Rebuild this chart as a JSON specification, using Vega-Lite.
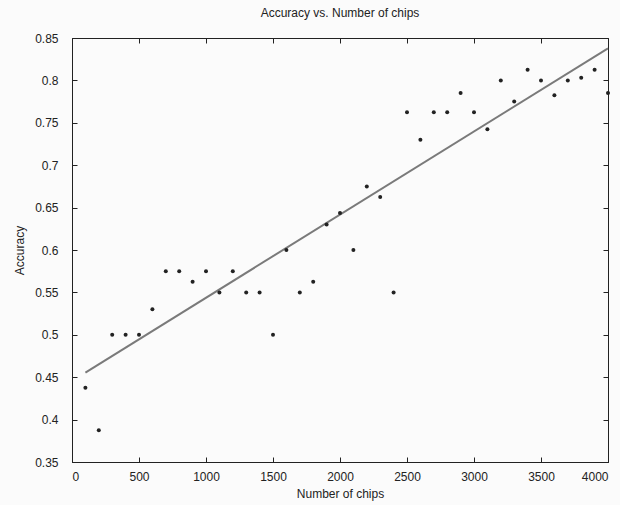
{
  "$schema": "https://vega.github.io/schema/vega-lite/v6.json",
  "width": 536,
  "height": 424,
  "autosize": {"type": "none"},
  "padding": {"left": 72, "top": 38, "right": 12, "bottom": 43},
  "background": "#fbfbfb",
  "title": {"text": "Accuracy vs. Number of chips", "font": "Liberation Sans", "fontSize": 12, "fontWeight": "normal", "color": "#222", "offset": 12},
  "config": {
    "view": {"stroke": "#222", "strokeWidth": 1, "fill": "#fbfbfb"},
    "axis": {"labelFont": "Liberation Sans", "titleFont": "Liberation Sans", "labelFontSize": 12, "titleFontSize": 12, "titleFontWeight": "normal", "labelColor": "#222", "titleColor": "#222", "domainColor": "#222", "tickColor": "#222", "tickSize": -5, "grid": false}
  },
  "datasets": {
    "pts": [
      {"chips": 100, "acc": 0.4375}, {"chips": 200, "acc": 0.3875}, {"chips": 300, "acc": 0.5}, {"chips": 400, "acc": 0.5},
      {"chips": 500, "acc": 0.5}, {"chips": 600, "acc": 0.53}, {"chips": 700, "acc": 0.575}, {"chips": 800, "acc": 0.575},
      {"chips": 900, "acc": 0.5625}, {"chips": 1000, "acc": 0.575}, {"chips": 1100, "acc": 0.55}, {"chips": 1200, "acc": 0.575},
      {"chips": 1300, "acc": 0.55}, {"chips": 1400, "acc": 0.55}, {"chips": 1500, "acc": 0.5}, {"chips": 1600, "acc": 0.6},
      {"chips": 1700, "acc": 0.55}, {"chips": 1800, "acc": 0.5625}, {"chips": 1900, "acc": 0.63}, {"chips": 2000, "acc": 0.6435},
      {"chips": 2100, "acc": 0.6}, {"chips": 2200, "acc": 0.675}, {"chips": 2300, "acc": 0.6625}, {"chips": 2400, "acc": 0.55},
      {"chips": 2500, "acc": 0.7625}, {"chips": 2600, "acc": 0.73}, {"chips": 2700, "acc": 0.7625}, {"chips": 2800, "acc": 0.7625},
      {"chips": 2900, "acc": 0.785}, {"chips": 3000, "acc": 0.7625}, {"chips": 3100, "acc": 0.7425}, {"chips": 3200, "acc": 0.8},
      {"chips": 3300, "acc": 0.775}, {"chips": 3400, "acc": 0.8125}, {"chips": 3500, "acc": 0.8}, {"chips": 3600, "acc": 0.7825},
      {"chips": 3700, "acc": 0.8}, {"chips": 3800, "acc": 0.803}, {"chips": 3900, "acc": 0.8125}, {"chips": 4000, "acc": 0.785}
    ],
    "fit": [
      {"chips": 100, "acc": 0.4555}, {"chips": 4000, "acc": 0.8378}
    ]
  },
  "layer": [
    {
      "data": {"name": "fit"},
      "mark": {"type": "line", "color": "#7a7a7a", "strokeWidth": 2},
      "encoding": {
        "x": {"field": "chips", "type": "quantitative", "scale": {"domain": [0, 4000], "nice": false}, "axis": {"title": "Number of chips", "format": "d", "values": [0,500,1000,1500,2000,2500,3000,3500,4000], "labelPadding": 14, "titlePadding": 6}},
        "y": {"field": "acc", "type": "quantitative", "scale": {"domain": [0.35, 0.85], "nice": false, "zero": false}, "axis": {"title": "Accuracy", "values": [0.35,0.4,0.45,0.5,0.55,0.6,0.65,0.7,0.75,0.8,0.85], "format": ".2~f", "labelPadding": 19, "titlePadding": 8}}
      }
    },
    {
      "data": {"name": "pts"},
      "mark": {"type": "point", "filled": true, "color": "#222", "size": 16, "opacity": 1},
      "encoding": {
        "x": {"field": "chips", "type": "quantitative", "axis": {"orient": "top", "labels": false, "title": null, "domain": false, "values": [0,500,1000,1500,2000,2500,3000,3500,4000]}},
        "y": {"field": "acc", "type": "quantitative", "axis": {"orient": "right", "labels": false, "title": null, "domain": false, "values": [0.35,0.4,0.45,0.5,0.55,0.6,0.65,0.7,0.75,0.8,0.85]}}
      }
    }
  ],
  "resolve": {"axis": {"x": "independent", "y": "independent"}}
}
